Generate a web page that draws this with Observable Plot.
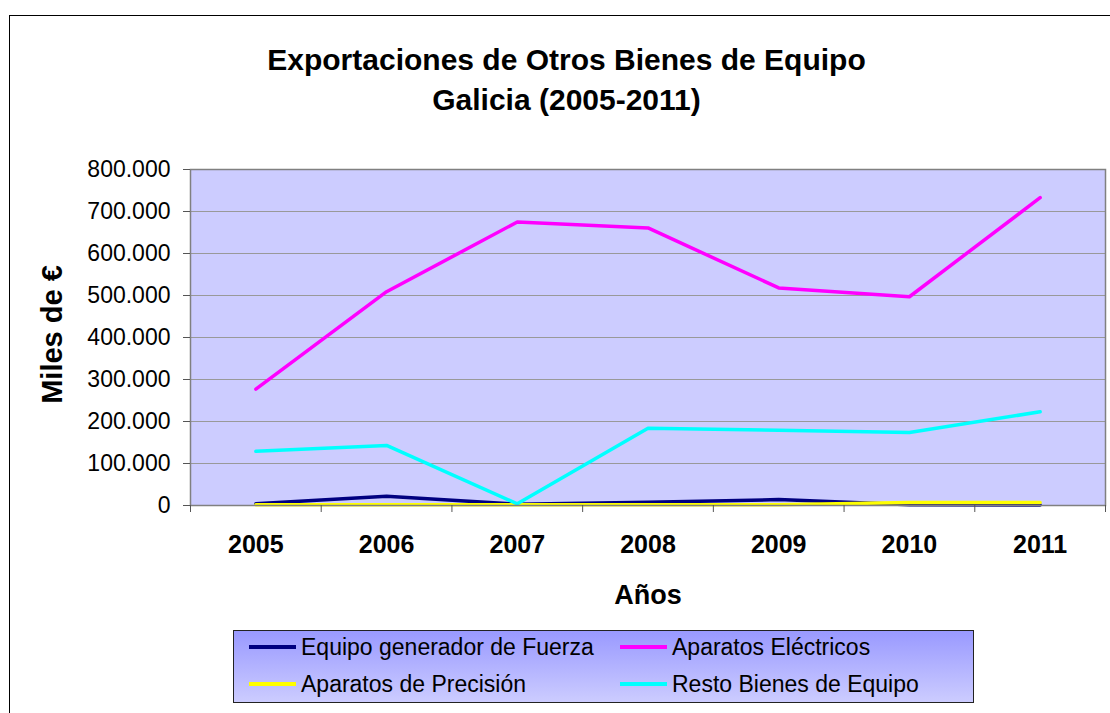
<!DOCTYPE html>
<html>
<head>
<meta charset="utf-8">
<script src="https://cdn.jsdelivr.net/npm/d3@7"></script>
<script src="https://cdn.jsdelivr.net/npm/@observablehq/plot@0.6"></script>
<style>
  html, body { margin: 0; padding: 0; background: #fff; overflow: hidden; }
  #wrap { position: relative; width: 1110px; height: 713px; overflow: hidden; font-family: "Liberation Sans", Arial, sans-serif; }
  #border { position: absolute; left: 9px; top: 15px; width: 1130px; height: 730px; border: 1px solid #000; box-sizing: border-box; }
  #title { position: absolute; left: 0; width: 1133px; top: 40px; text-align: center; font-weight: bold; font-size: 30px; line-height: 40px; color: #000; }
  #chart { position: absolute; left: 0; top: 0; }
  #legend { position: absolute; left: 233px; top: 630px; width: 741px; height: 73px; box-sizing: border-box; border: 1px solid #222; background: linear-gradient(#9999ff, #ccccff); }
  .item { position: absolute; display: flex; align-items: center; font-size: 23px; color: #000; white-space: nowrap; }
  .sw { width: 47px; height: 4px; margin-right: 5px; }
</style>
</head>
<body>
<div id="wrap">
  <div id="border"></div>
  <div id="title">Exportaciones de Otros Bienes de Equipo<br>Galicia (2005-2011)</div>
  <div id="chart"></div>
  <div id="legend"></div>
</div>
<script>
const years = [2005, 2006, 2007, 2008, 2009, 2010, 2011];
const equipoGenerador = [4000, 22000, 3000, 8000, 14000, 1500, 1000];
const aparatosElectricos = [277000, 509000, 675000, 661000, 518000, 497000, 733000];
const aparatosPrecision = [1500, 1500, 1500, 1500, 2000, 7000, 7000];
const restoBienes = [129000, 143000, 4000, 184000, 179000, 174000, 223000];
const seriesNames = ["Equipo generador de Fuerza", "Aparatos Eléctricos", "Aparatos de Precisión", "Resto Bienes de Equipo"];
const seriesColors = ["#000080", "#ff00ff", "#ffff00", "#00ffff"];
const yTicks = [0, 100000, 200000, 300000, 400000, 500000, 600000, 700000, 800000];

const seriesValues = [equipoGenerador, aparatosElectricos, aparatosPrecision, restoBienes];
const data = seriesNames.flatMap((name, i) => years.map((yr, j) => ({serie: name, year: yr, value: seriesValues[i][j]})));
const boundaries = [years[0] - 0.5, ...years.map(y => y + 0.5)];
const fmt = v => d3.format(",.0f")(v).replace(/,/g, ".");

const chart = Plot.plot({
  width: 1110,
  height: 713,
  marginLeft: 190,
  marginRight: 5,
  marginTop: 169,
  marginBottom: 208,
  style: {fontFamily: "Liberation Sans, Arial, sans-serif", background: "transparent", overflow: "visible"},
  x: {type: "linear", domain: [boundaries[0], boundaries[boundaries.length - 1]]},
  y: {domain: [0, 800000]},
  color: {domain: seriesNames, range: seriesColors},
  marks: [
    Plot.frame({fill: "#ccccff"}),
    Plot.gridY(yTicks, {stroke: "#999999", strokeOpacity: 1, strokeWidth: 1.2}),
    ...seriesNames.map((name, i) => Plot.line(data.filter(d => d.serie === name), {x: "year", y: "value", stroke: seriesColors[i], strokeWidth: 3.5})),
    Plot.frame({stroke: "#808080", strokeWidth: 1.5}),
    Plot.axisY(yTicks, {tickSize: 7, tickPadding: 13, tickFormat: fmt, fontSize: 23, label: null, stroke: "#555"}),
    Plot.axisX(boundaries, {tickSize: 7, tickFormat: () => "", label: null, stroke: "#555"}),
    Plot.axisX(years, {tickSize: 0, tickPadding: 30, tickFormat: d => String(d), fontSize: 25, fontWeight: "bold", label: null}),
    Plot.text(["Años"], {frameAnchor: "bottom", dy: 79, fontSize: 27, fontWeight: "bold", lineAnchor: "top"}),
    Plot.text(["Miles de €"], {frameAnchor: "left", dx: -138, rotate: -90, fontSize: 29, fontWeight: "bold", textAnchor: "middle", lineAnchor: "middle", dy: -3})
  ]
});
document.getElementById("chart").appendChild(chart);

const legend = document.getElementById("legend");
const pos = [[15, 16], [386, 16], [15, 53], [386, 53]];
seriesNames.forEach((name, i) => {
  const el = document.createElement("div");
  el.className = "item";
  el.style.left = pos[i][0] + "px";
  el.style.top = (pos[i][1] - 14) + "px";
  el.style.height = "28px";
  const sw = document.createElement("div");
  sw.className = "sw";
  sw.style.background = seriesColors[i];
  const tx = document.createElement("span");
  tx.textContent = name;
  el.appendChild(sw);
  el.appendChild(tx);
  legend.appendChild(el);
});
</script>
</body>
</html>
